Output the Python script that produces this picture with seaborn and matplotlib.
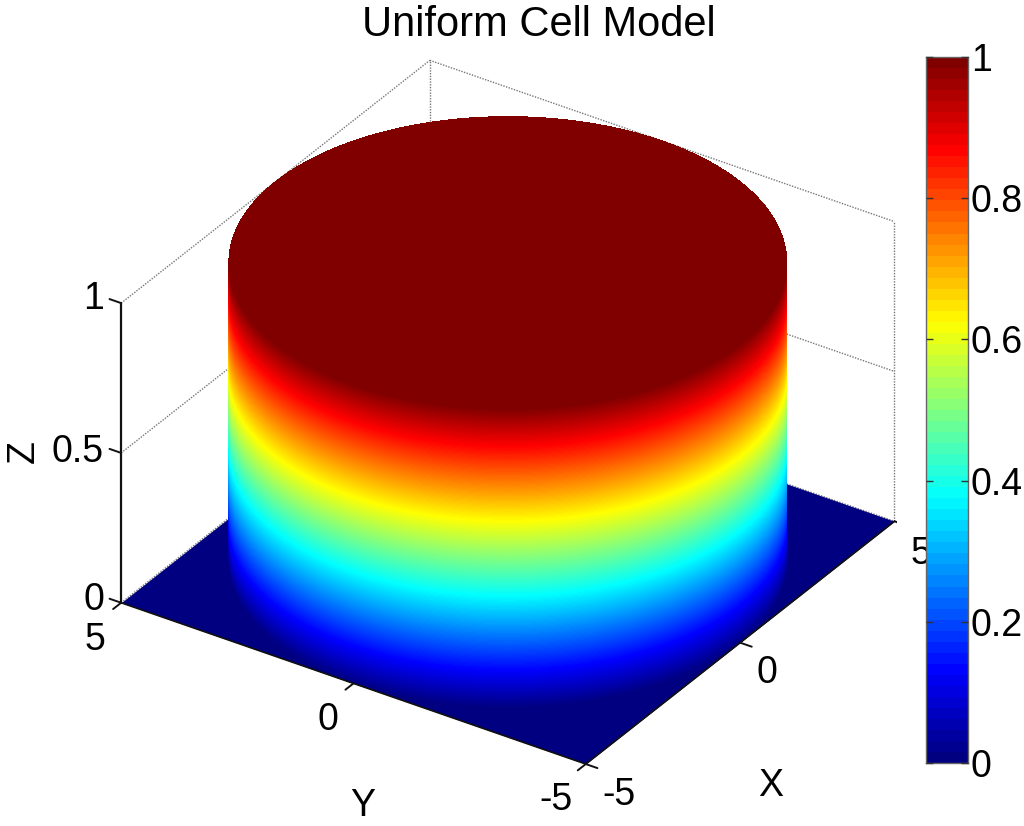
import numpy as np
import seaborn as sns
import matplotlib
matplotlib.use("Agg")
import matplotlib.pyplot as plt
from matplotlib.colors import LinearSegmentedColormap
from mpl_toolkits.mplot3d.art3d import Poly3DCollection

W, H = 1024, 826

# Data
x_ticks = [-5, 0, 5]
y_ticks = [-5, 0, 5]
z_ticks = [0, 0.5, 1]
cbar_ticks = [0, 0.2, 0.4, 0.6, 0.8, 1]
cbar_labels = ["0", "0.2", "0.4", "0.6", "0.8", "1"]
radius = 5
height = 1
jet_nodes = [(0, '#000080'), (0.125, '#0000ff'), (0.375, '#00ffff'),
             (0.625, '#ffff00'), (0.875, '#ff0000'), (1, '#800000')]

sns.set_style("white")
plt.rcParams['font.family'] = ['Liberation Sans', 'DejaVu Sans']
plt.rcParams['text.color'] = 'black'
plt.rcParams['ytick.labelcolor'] = 'black'

jet_fine = LinearSegmentedColormap.from_list("jet_fine", jet_nodes, N=256)
jet_bands = LinearSegmentedColormap.from_list("jet_bands", jet_nodes, N=64)


def px(x, y):
    return x / W, 1 - y / H


fig = plt.figure(figsize=(W / 100, H / 100), dpi=100)

# 3D axes
ax = fig.add_axes([97 / W, 3 / H, 800 / W, 800 / H], projection='3d', computed_zorder=False)
ax.set_proj_type('ortho')
ax.view_init(elev=31.5, azim=-146.4)
ax.set_xlim(-5, 5)
ax.set_ylim(-5, 5)
ax.set_zlim(0, 1)
ax.set_box_aspect((10, 10, 6.3), zoom=1.048)
ax.set_axis_off()
ax.patch.set_alpha(0)

grid_kw = dict(color='#777777', lw=1, ls=(0, (1, 1)), zorder=1)
for z in z_ticks:
    ax.plot([-5, 5], [5, 5], [z, z], **grid_kw)
    ax.plot([5, 5], [5, -5], [z, z], **grid_kw)
ax.plot([5, 5], [5, 5], [0, 1], **grid_kw)
ax.plot([5, 5], [-5, -5], [0, 1], **grid_kw)

# floor
fx, fy = np.meshgrid([-5, 5], [-5, 5])
ax.plot_surface(fx, fy, np.zeros_like(fx), color=jet_fine(0), shade=False, lw=0, zorder=2)

# cylinder wall, coloured by height
theta = np.linspace(0, 2 * np.pi, 361)
zs = np.linspace(0, height, 257)
T, Z = np.meshgrid(theta, zs)
ax.plot_surface(radius * np.cos(T), radius * np.sin(T), Z, facecolors=jet_fine(Z),
                rstride=1, cstride=1, shade=False, lw=0, antialiased=False, zorder=3)

# cylinder top
rim = np.column_stack([radius * np.cos(theta), radius * np.sin(theta), np.full_like(theta, height)])
top = Poly3DCollection([rim], facecolors=[jet_fine(255)], edgecolors='none', zorder=4)
ax.add_collection3d(top)

# box edges and ticks
ax.plot([-5, -5], [5, 5], [0, 1], color='#111111', lw=1.6, zorder=5)
ax.plot([-5, -5], [5, -5], [0, 0], color='#111111', lw=1.2, zorder=5)
ax.plot([-5, 5], [-5, -5], [0, 0], color='#111111', lw=1.2, zorder=5)
tick_kw = dict(color='#111111', lw=1.4, zorder=5)
for z in z_ticks:
    ax.plot([-5, -5], [5, 5.25], [z, z], **tick_kw)
for y in y_ticks:
    ax.plot([-5, -5.26], [y, y], [0, 0], **tick_kw)
for x in x_ticks:
    ax.plot([x, x], [-5, -5.25], [0, 0], **tick_kw)

# tick and axis labels
fs = 27
for lab, (lx, ly) in zip(["1", "0.5", "0"], [(104, 299), (104, 452), (104, 600)]):
    fig.text(*px(lx, ly), lab, ha='right', va='center', fontsize=fs)
for lab, (lx, ly) in zip(["5", "0", "-5"], [(95, 640), (328, 720), (556, 800)]):
    fig.text(*px(lx, ly), lab, ha='center', va='center', fontsize=fs)
for lab, (lx, ly) in zip(["-5", "0", "5"], [(619, 795), (767, 673), (921, 554)]):
    fig.text(*px(lx, ly), lab, ha='center', va='center', fontsize=fs)
fig.text(*px(24, 452), "Z", ha='center', va='center', rotation=90, fontsize=fs)
fig.text(*px(363, 806), "Y", ha='center', va='center', fontsize=fs)
fig.text(*px(771, 786), "X", ha='center', va='center', fontsize=fs)
fig.text(*px(539, 25), "Uniform Cell Model", ha='center', va='center', fontsize=30)

# colorbar, drawn as a one-column heatmap
cax = fig.add_axes([926 / W, 1 - 763 / H, 42 / W, 706 / H])
cax.set_zorder(10)
levels = np.linspace(1, 0, 64).reshape(-1, 1)
sns.heatmap(levels, ax=cax, cmap=jet_bands, vmin=0, vmax=1, cbar=False,
            xticklabels=False, yticklabels=False)
cax.set_axisbelow(False)
cax.set_yticks([(1 - v) * 64 for v in cbar_ticks])
cax.set_yticklabels(cbar_labels, fontsize=fs)
cax.tick_params(axis='y', left=True, right=True, labelleft=False, labelright=True,
                direction='in', length=5, width=1, color='#333333', pad=2)
for s in cax.spines.values():
    s.set_visible(True)
    s.set_color('#666666')
    s.set_linewidth(1)

fig.savefig("out.png", dpi=100)
